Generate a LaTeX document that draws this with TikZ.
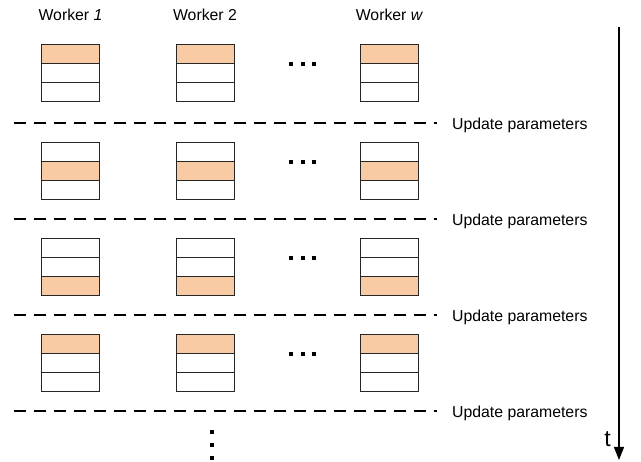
\documentclass[tikz,border=0pt]{standalone}
\usepackage{fontspec}
\setmainfont{Liberation Sans}
\usetikzlibrary{arrows.meta}
\definecolor{slotfill}{RGB}{248,203,165}
\begin{document}
\begin{tikzpicture}[x=1pt,y=-1pt,
  cell/.style={draw=black!85,line width=0.8pt,minimum width=58pt,minimum height=19pt,inner sep=0pt,outer sep=0pt,fill=white},
  hot/.style={fill=slotfill},
  head/.style={font=\fontsize{15.8}{18}\selectfont,anchor=base},
  lbl/.style={font=\fontsize{15.8}{18}\selectfont,anchor=west,inner sep=0pt},
  sync/.style={dash pattern=on 12pt off 8pt,line width=1.4pt},
  dot/.style={fill=black,minimum size=4pt,inner sep=0pt,draw=none,shape=rectangle}]
\useasboundingbox (0,0) rectangle (641,462);

% column headers
\node[head] (h1) at (70.5,21) {Worker \textit{1}};
\node[head] (h2) at (205,21) {Worker 2};
\node[head] (hw) at (389.5,21) {Worker \textit{w}};

% one stack of three slots per worker and round; the active slot is filled
\foreach \r/\top/\act in {1/44/1,2/142/2,3/238/3,4/334/1}{
  \foreach \w/\cx in {a/70.5,b/205,c/389.5}{
    \foreach \k in {1,2,3}{
      \pgfmathsetmacro{\cy}{\top+9.5+19*(\k-1)}
      \ifnum\k=\act
        \node[cell,hot] (s\r\w\k) at (\cx,\cy) {};
      \else
        \node[cell] (s\r\w\k) at (\cx,\cy) {};
      \fi
    }
  }
  \pgfmathsetmacro{\dy}{\top+20}
  \node[dot] (d\r a) at (291,\dy) {};
  \node[dot] (d\r b) at (302.5,\dy) {};
  \node[dot] (d\r c) at (314,\dy) {};
}

% parameter synchronisation after every round
\foreach \i/\y in {1/123,2/219,3/315,4/411}{
  \coordinate (ls\i) at (14,\y);
  \coordinate (le\i) at (437,\y);
  \draw[sync] (ls\i) -- (le\i);
  \node[lbl] (u\i) at (452,\y+2) {Update parameters};
}

% further rounds
\node[dot] (v1) at (212,432) {};
\node[dot] (v2) at (212,445) {};
\node[dot] (v3) at (212,458) {};

% time axis
\coordinate (t0) at (619,27);
\coordinate (t1) at (619,460);
\draw[line width=1.3pt,-{Triangle[width=10pt,length=13pt]}] (t0) -- (t1);
\node[font=\fontsize{23}{26}\selectfont,anchor=base,inner sep=0pt] (tl) at (607.5,447) {t};
\end{tikzpicture}
\end{document}
